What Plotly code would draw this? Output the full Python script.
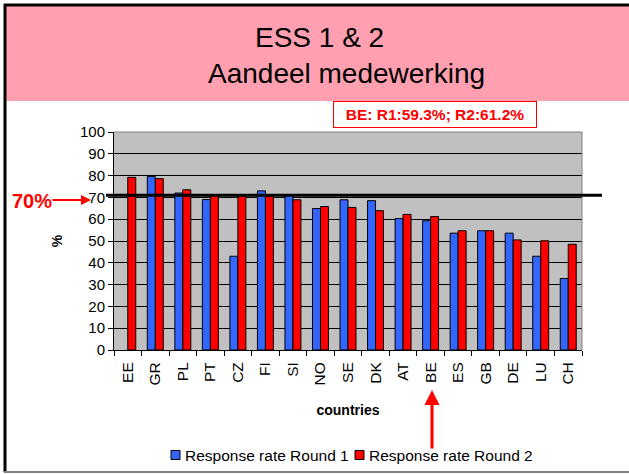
import plotly.graph_objects as go

countries = ["EE", "GR", "PL", "PT", "CZ", "FI", "SI", "NO", "SE", "DK", "AT", "BE", "ES", "GB", "DE", "LU", "CH"]
round1 = [None, 79.6, 72.0, 69.0, 43.0, 73.0, 71.2, 64.9, 68.9, 68.5, 60.3, 59.3, 53.6, 54.7, 53.6, 43.0, 32.8]
round2 = [79.2, 78.6, 73.5, 70.7, 70.6, 70.4, 68.9, 65.8, 65.4, 63.9, 62.2, 61.2, 54.7, 54.7, 50.5, 50.1, 48.5]
series_names = ["Response rate Round 1", "Response rate Round 2"]
series_colors = ["#3366FF", "#FF0000"]
target_line = 71
y_ticks = list(range(0, 101, 10))

W, H = 629, 474
L, R, T, B = 114, 582, 132, 350
FONT = "Arial, Liberation Sans, sans-serif"

def px(x):
    return (x - L) / (R - L)

def py(y):
    return (B - y) / (B - T)

fig = go.Figure()
for vals, name, col in zip([round1, round2], series_names, series_colors):
    fig.add_trace(go.Bar(x=countries, y=vals, name=name,
                         marker=dict(color=col, line=dict(color="black", width=1))))

shapes = [
    # pink title band
    dict(type="rect", xref="paper", yref="paper", x0=px(6), x1=px(629), y0=py(101), y1=py(6),
         fillcolor="#FF9FAF", line=dict(width=0), layer="below"),
    # frame lines
    dict(type="line", xref="paper", yref="paper", x0=px(5), x1=px(5), y0=py(472), y1=py(4),
         line=dict(color="black", width=3)),
    dict(type="line", xref="paper", yref="paper", x0=px(4), x1=px(629), y0=py(5), y1=py(5),
         line=dict(color="black", width=3)),
    dict(type="line", xref="paper", yref="paper", x0=px(4), x1=px(629), y0=py(472), y1=py(472),
         line=dict(color="#808080", width=2)),
    # plot area border (top/right)
    dict(type="line", xref="paper", yref="paper", x0=0, x1=1, y0=1, y1=1,
         line=dict(color="#808080", width=1)),
    dict(type="line", xref="paper", yref="paper", x0=1, x1=1, y0=0, y1=1,
         line=dict(color="#808080", width=1)),
    # 70% reference line
    dict(type="line", xref="paper", yref="y", x0=px(106), x1=px(602), y0=target_line, y1=target_line,
         line=dict(color="black", width=3)),
]

annotations = [
    dict(text="ESS 1 & 2", xref="paper", yref="paper", x=px(319), y=py(38), showarrow=False,
         xanchor="center", yanchor="middle",
         font=dict(size=28, family=FONT, color="black")),
    dict(text="Aandeel medewerking", xref="paper", yref="paper", x=px(346), y=py(73), showarrow=False,
         xanchor="center", yanchor="middle",
         font=dict(size=28, family=FONT, color="black")),
    dict(text="<b>BE: R1:59.3%; R2:61.2%</b>", xref="paper", yref="paper", x=px(435), y=py(114.5),
         xanchor="center", yanchor="middle",
         showarrow=False, font=dict(size=15.5, family=FONT, color="#FF0000"),
         bordercolor="#FF0000", borderwidth=1, borderpad=2, bgcolor="white", width=198, height=21),
    dict(text="<b>70%</b>", xref="paper", yref="paper", x=px(32), y=py(201), showarrow=False,
         xanchor="center", yanchor="middle",
         font=dict(size=20, family=FONT, color="#FF0000")),
    dict(text="", xref="paper", yref="paper", x=px(91), y=py(200), showarrow=True,
         ax=-40, ay=0, arrowcolor="#FF0000", arrowhead=2, arrowwidth=2, arrowsize=1),
    dict(text="", xref="paper", yref="paper", x=px(432), y=py(390), showarrow=True,
         ax=0, ay=60, arrowcolor="#FF0000", arrowhead=2, arrowwidth=3, arrowsize=1),
]

# custom legend (square swatches close to their text)
leg_x = [171, 355]
for lx, name, col in zip(leg_x, series_names, series_colors):
    shapes.append(dict(type="rect", xref="paper", yref="paper", x0=px(lx), x1=px(lx + 9),
                       y0=py(459.5), y1=py(450.5), fillcolor=col, line=dict(color="black", width=1)))
    annotations.append(dict(text=name, xref="paper", yref="paper", x=px(lx + 12), y=py(455),
                            xanchor="left", yanchor="middle", showarrow=False,
                            font=dict(size=15.5, family=FONT, color="black")))

fig.update_layout(
    width=W, height=H,
    margin=dict(l=L, r=W - R, t=T, b=H - B, autoexpand=False),
    paper_bgcolor="white", plot_bgcolor="#C0C0C0",
    barmode="group", bargap=0.42, bargroupgap=0,
    showlegend=False,
    font=dict(family=FONT, size=15, color="black"),
    shapes=shapes, annotations=annotations,
    xaxis=dict(tickangle=-90, ticks="outside", tickson="boundaries", ticklen=5,
               tickcolor="black", showline=True, linecolor="black", mirror=False,
               tickfont=dict(size=15.5, family=FONT), ticklabelstandoff=5,
               title=dict(text="<b>countries</b>", font=dict(size=14, family=FONT), standoff=20)),
    yaxis=dict(range=[0, 100], tickvals=y_ticks, ticks="outside", ticklen=5, tickcolor="black",
               showline=True, linecolor="black", showgrid=True, gridcolor="black", gridwidth=1,
               zeroline=False, tickfont=dict(size=15, family=FONT),
               title=dict(text="<b>%</b>", font=dict(size=14, family=FONT), standoff=14)),
)

fig.write_html("out.html", config={"displayModeBar": False},
               post_script="document.body.style.margin='0';document.body.style.overflow='hidden';")
